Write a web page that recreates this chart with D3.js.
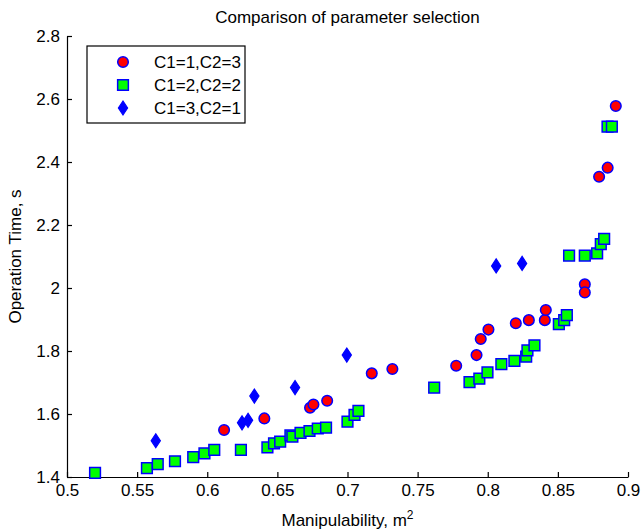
<!DOCTYPE html>
<html><head><meta charset="utf-8">
<script src="https://cdn.jsdelivr.net/npm/d3@7"></script>
<style>body{margin:0;background:#fff}svg{display:block}text{font-family:"Liberation Sans",Arial,sans-serif}</style>
</head><body><div id="chart"></div>
<script>
const seriesNames = ["C1=1,C2=3", "C1=2,C2=2", "C1=3,C2=1"];
const redX = [0.612,0.6407,0.6733,0.6757,0.6855,0.7173,0.732,0.7775,0.792,0.795,0.8005,0.820,0.8293,0.8407,0.8414,0.8692,0.8692,0.8794,0.8855,0.8913];
const redY = [1.549,1.586,1.620,1.630,1.642,1.729,1.743,1.753,1.787,1.838,1.868,1.888,1.898,1.898,1.930,2.012,1.986,2.353,2.382,2.578];
const greenX = [0.520,0.557,0.5647,0.577,0.590,0.598,0.605,0.624,0.6429,0.6476,0.652,0.6593,0.6607,0.6665,0.6729,0.6788,0.6847,0.700,0.705,0.7078,0.7618,0.787,0.794,0.7998,0.8097,0.819,0.8274,0.8283,0.8333,0.8507,0.8545,0.8564,0.858,0.8692,0.878,0.8806,0.883,0.8854,0.8885];
const greenY = [1.413,1.428,1.441,1.450,1.463,1.475,1.486,1.486,1.494,1.507,1.512,1.532,1.528,1.540,1.546,1.554,1.557,1.576,1.597,1.610,1.684,1.701,1.712,1.732,1.758,1.769,1.782,1.802,1.818,1.885,1.898,1.914,2.103,2.103,2.110,2.139,2.156,2.512,2.512];
const blueX = [0.5633,0.6248,0.6291,0.6336,0.6626,0.6995,0.806,0.8245];
const blueY = [1.515,1.572,1.580,1.657,1.684,1.787,2.070,2.078];
const xTicks = [0.5,0.55,0.6,0.65,0.7,0.75,0.8,0.85,0.9];
const yTicks = [1.4,1.6,1.8,2.0,2.2,2.4,2.6,2.8];
const titleText = "Comparison of parameter selection";
const xLabel = "Manipulability, m";
const yLabel = "Operation Time, s";

const W = 641, H = 532;
const m = {l:67, r:13, t:36, b:55};
const svg = d3.select("#chart").append("svg").attr("width", W).attr("height", H);
const x = d3.scaleLinear().domain([0.5,0.9]).range([m.l, W - m.r]);
const y = d3.scaleLinear().domain([1.4,2.8]).range([H - m.b, m.t]);
const fmt = v => String(+v.toFixed(2));

const xAxis = d3.axisBottom(x).tickValues(xTicks).tickFormat(fmt).tickSizeInner(-5).tickSizeOuter(0).tickPadding(7);
const yAxis = d3.axisLeft(y).tickValues(yTicks).tickFormat(fmt).tickSizeInner(-5).tickSizeOuter(0).tickPadding(7);
const gx = svg.append("g").attr("transform", `translate(0,${H - m.b})`).call(xAxis);
const gy = svg.append("g").attr("transform", `translate(${m.l},0)`).call(yAxis);
[gx, gy].forEach(g => {
  g.selectAll("text").attr("font-size", 17).attr("fill", "#000").style("font-family", '"Liberation Sans",Arial,sans-serif');
  g.selectAll("line,path").attr("stroke", "#000").attr("stroke-width", 1.2);
});

svg.append("text").attr("x", (m.l + W - m.r)/2).attr("y", 23).attr("text-anchor","middle").attr("font-size",17).text(titleText);
const xl = svg.append("text").attr("x", (m.l + W - m.r)/2).attr("y", 526).attr("text-anchor","middle").attr("font-size",17);
xl.append("tspan").text(xLabel);
xl.append("tspan").attr("dy",-7).attr("font-size",12).text("2");
svg.append("text").attr("transform", `translate(21,${(m.t + H - m.b)/2}) rotate(-90)`).attr("text-anchor","middle").attr("font-size",17).text(yLabel);

const stroke = "#0000ff";
const sqSym = d3.symbol().type(d3.symbolSquare).size(115);
function circ(g, cx, cy){ g.append("circle").attr("cx",cx).attr("cy",cy).attr("r",5.3).attr("fill","#ff0000").attr("stroke",stroke).attr("stroke-width",1.5); }
function sq(g, cx, cy){ g.append("path").attr("d", sqSym()).attr("transform",`translate(${cx},${cy})`).attr("fill","#00ff00").attr("stroke",stroke).attr("stroke-width",1.5); }
function dia(g, cx, cy){ g.append("path").attr("d", `M0,-7L4.6,0L0,7L-4.6,0Z`).attr("transform",`translate(${cx},${cy})`).attr("fill","#0000ff").attr("stroke",stroke).attr("stroke-width",1.2); }

const pts = svg.append("g");
redX.forEach((v,i) => circ(pts, x(v), y(redY[i])));
greenX.forEach((v,i) => sq(pts, x(v), y(greenY[i])));
blueX.forEach((v,i) => dia(pts, x(v), y(blueY[i])));

// legend
const lg = svg.append("g");
lg.append("rect").attr("x",87).attr("y",46).attr("width",158).attr("height",77).attr("fill","#fff").attr("stroke","#000").attr("stroke-width",1.2);
const rowsY = [62, 85, 108];
circ(lg, 123, rowsY[0]); sq(lg, 123, rowsY[1]); dia(lg, 123, rowsY[2]);
seriesNames.forEach((s,i) => lg.append("text").attr("x",154).attr("y",rowsY[i]+6).attr("font-size",17).text(s));
</script></body></html>
